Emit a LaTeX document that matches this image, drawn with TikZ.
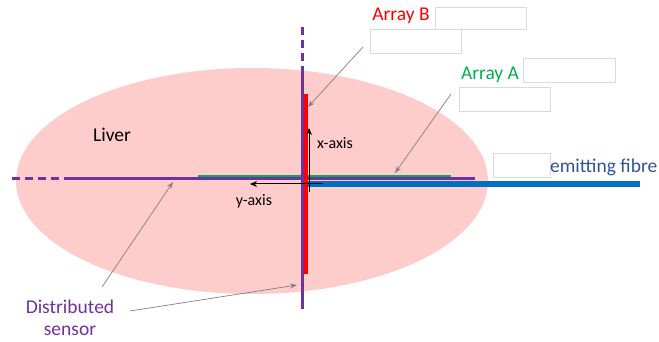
\documentclass[tikz,border=0pt]{standalone}
\usepackage{fontspec}
\setmainfont{Carlito}
\usetikzlibrary{arrows.meta,shapes.geometric}
\definecolor{liverpink}{HTML}{FFCCCC}
\definecolor{sensorpurple}{HTML}{7030A0}
\definecolor{arrayred}{HTML}{FF0000}
\definecolor{arraygreen}{HTML}{00B050}
\definecolor{fibreblue}{HTML}{0070C0}
\definecolor{fibretext}{HTML}{2F5597}
\definecolor{boxgray}{HTML}{D9D9D9}
\definecolor{pointgray}{HTML}{808080}
\tikzset{
  lbl/.style={inner sep=0pt, anchor=base, font=\fontsize{19.5}{22}\selectfont},
  axlbl/.style={inner sep=0pt, anchor=base, font=\fontsize{16}{18}\selectfont, text=black},
  emptybox/.style={draw=boxgray, line width=0.8pt, fill=white, inner sep=0pt, anchor=north west},
  pointer/.style={draw=pointgray, line width=0.7pt, -{Stealth[length=7pt,width=5pt]}},
  sensorline/.style={draw=sensorpurple, line width=3pt},
  sensordash/.style={draw=sensorpurple, line width=3pt, dash pattern=on 8pt off 5pt},
  axisarrow/.style={draw=black, line width=1pt, -{Stealth[length=7pt,width=6pt]}}
}
\begin{document}
\begin{tikzpicture}[x=1pt,y=-1pt]
\useasboundingbox (0,0) rectangle (659,342);
% liver
\node[ellipse, fill=liverpink, minimum width=472pt, minimum height=226pt, inner sep=0pt] (liver) at (252,181) {};
\node[lbl, text=black] (liverlbl) at (112,142) {Liver};
% coordinates
\coordinate (hdashL) at (12,179);
\coordinate (hdashR) at (64,179);
\coordinate (hsolR) at (475,179);
\coordinate (vdashT) at (302,27);
\coordinate (vdashB) at (302,72);
\coordinate (vsolB) at (302,309);
\coordinate (greenL) at (198,177);
\coordinate (greenR) at (451,177);
\coordinate (blueL) at (305,184);
\coordinate (blueR) at (640,184);
\coordinate (redT) at (306,94);
\coordinate (redB) at (306,274);
% emitting fibre
\draw[draw=fibreblue, line width=6pt] (blueL) -- (blueR);
% array A
\draw[draw=arraygreen, line width=3pt] (greenL) -- (greenR);
% distributed sensor
\draw[sensordash] (hdashL) -- (hdashR);
\draw[sensorline] (hdashR) -- (hsolR);
\draw[sensordash] (vdashT) -- (vdashB);
\draw[sensorline] (vdashB) -- (vsolB);
% array B
\draw[draw=arrayred, line width=3.5pt] (redT) -- (redB);
% axes
\coordinate (origin) at (309,184);
\coordinate (xend) at (309,128);
\coordinate (xstart) at (309,192);
\coordinate (ystart) at (323,184);
\coordinate (yend) at (250,184);
\draw[axisarrow] (xstart) -- (xend);
\draw[axisarrow] (ystart) -- (yend);
\node[axlbl, anchor=base west] (xlbl) at (317,149) {x-axis};
\node[axlbl] (ylbl) at (254,206) {y-axis};
% empty boxes
\node[emptybox, minimum width=91pt, minimum height=22pt] (boxB1) at (435,7) {};
\node[emptybox, minimum width=91pt, minimum height=24pt] (boxB2) at (370,29) {};
\node[emptybox, minimum width=92pt, minimum height=24pt] (boxA1) at (523,58) {};
\node[emptybox, minimum width=91pt, minimum height=24pt] (boxA2) at (459,87) {};
\node[emptybox, minimum width=57pt, minimum height=24pt] (boxF) at (493,153) {};
% labels
\node[lbl, text=arrayred] (lblB) at (401,21) {Array B};
\node[lbl, text=arraygreen] (lblA) at (490,80) {Array A};
\node[lbl, text=fibretext, anchor=base west] (lblF) at (550,172) {emitting fibre};
\node[lbl, text=sensorpurple] (lblS1) at (70,313) {Distributed};
\node[lbl, text=sensorpurple] (lblS2) at (70,335) {sensor};
% pointers
\coordinate (pB0) at (363,47);
\coordinate (pB1) at (308,107);
\coordinate (pA0) at (451,94);
\coordinate (pA1) at (395,173);
\coordinate (pS0) at (102,287);
\coordinate (pS1) at (173,182);
\coordinate (pS2) at (130,311);
\coordinate (pS3) at (297,285);
\draw[pointer] (pB0) -- (pB1);
\draw[pointer] (pA0) -- (pA1);
\draw[pointer] (pS0) -- (pS1);
\draw[pointer] (pS2) -- (pS3);
\end{tikzpicture}
\end{document}
